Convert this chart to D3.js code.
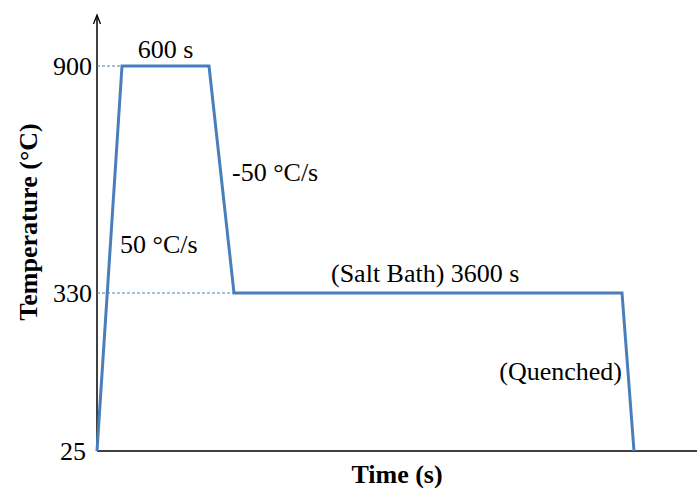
<!DOCTYPE html>
<html>
<head>
<meta charset="utf-8">
<script src="https://cdn.jsdelivr.net/npm/d3@7"></script>
<style>
  html, body { margin: 0; padding: 0; background: #fff; }
  svg { display: block; }
</style>
</head>
<body>
<svg id="chart" width="697" height="488"></svg>
<script>
// Heat-treatment schedule: time (s) and temperature (°C) at each turning point
const stepTimes = [0, 17.5, 617.5, 629, 4229, 4240];
const stepTemps = [25, 900, 900, 330, 330, 25];
const tempTicks = [25, 330, 900];
const stepLabels = ["600 s", "-50 °C/s", "50 °C/s", "(Salt Bath) 3600 s", "(Quenched)"];

const FONT = "'Liberation Serif', 'Times New Roman', Times, serif";
const svg = d3.select("#chart");
const blue = "#4a7ebb";

// Schematic (piecewise) scales so short ramps and long holds are both visible
const x = d3.scaleLinear()
  .domain(stepTimes)
  .range([97, 122, 209, 234, 622, 634]);
const y = d3.scaleLinear()
  .domain(tempTicks)
  .range([451, 293, 66]);

const x0 = x(0), y0 = y(25);

// Axes with an arrowhead on the vertical one
svg.append("line").attr("x1", x0).attr("x2", 697).attr("y1", y0).attr("y2", y0)
  .attr("stroke", "#000").attr("stroke-width", 1.5);
svg.append("line").attr("x1", x0).attr("x2", x0).attr("y1", y0).attr("y2", 16)
  .attr("stroke", "#000").attr("stroke-width", 1.5);
svg.append("path")
  .attr("d", `M${x0 - 3.5},${24} L${x0},${15} L${x0 + 3.5},${24}`)
  .attr("fill", "none").attr("stroke", "#000").attr("stroke-width", 1.3);

// Dashed guides from the axis to the hold temperatures
[[1, 900], [3, 330]].forEach(([i, t]) => {
  svg.append("line")
    .attr("x1", x0).attr("x2", x(stepTimes[i]))
    .attr("y1", y(t)).attr("y2", y(t))
    .attr("stroke", blue).attr("stroke-width", 1)
    .attr("stroke-dasharray", "3,2");
});

// Tick labels
svg.selectAll("text.tick").data(tempTicks).enter().append("text")
  .attr("class", "tick")
  .attr("x", d => d === 25 ? 86 : 92)
  .attr("y", d => y(d) + 9)
  .attr("text-anchor", "end")
  .attr("font-family", FONT)
  .attr("font-size", 26)
  .text(d => d);

// Temperature profile
const pts = stepTimes.map((t, i) => [t, stepTemps[i]]);
svg.append("path")
  .datum(pts)
  .attr("d", d3.line().x(d => x(d[0])).y(d => y(d[1])))
  .attr("fill", "none").attr("stroke", blue).attr("stroke-width", 3)
  .attr("stroke-linejoin", "miter");

// Step annotations
const ann = [
  { t: stepLabels[0], x: (x(stepTimes[1]) + x(stepTimes[2])) / 2, y: y(900) - 8, a: "middle" },
  { t: stepLabels[1], x: 232, y: 181, a: "start" },
  { t: stepLabels[2], x: 120, y: 253, a: "start" },
  { t: stepLabels[3], x: 331, y: y(330) - 11, a: "start" },
  { t: stepLabels[4], x: 622, y: 380, a: "end" }
];
svg.selectAll("text.ann").data(ann).enter().append("text")
  .attr("class", "ann")
  .attr("x", d => d.x).attr("y", d => d.y)
  .attr("text-anchor", d => d.a)
  .attr("font-family", FONT)
  .attr("font-size", 26)
  .text(d => d.t);

// Axis titles
svg.append("text")
  .attr("x", 397).attr("y", 483)
  .attr("text-anchor", "middle")
  .attr("font-family", FONT)
  .attr("font-size", 26).attr("font-weight", "bold")
  .text("Time (s)");
svg.append("text")
  .attr("transform", "translate(37,222) rotate(-90)")
  .attr("text-anchor", "middle")
  .attr("font-family", FONT)
  .attr("font-size", 26).attr("font-weight", "bold")
  .text("Temperature (°C)");
</script>
</body>
</html>
